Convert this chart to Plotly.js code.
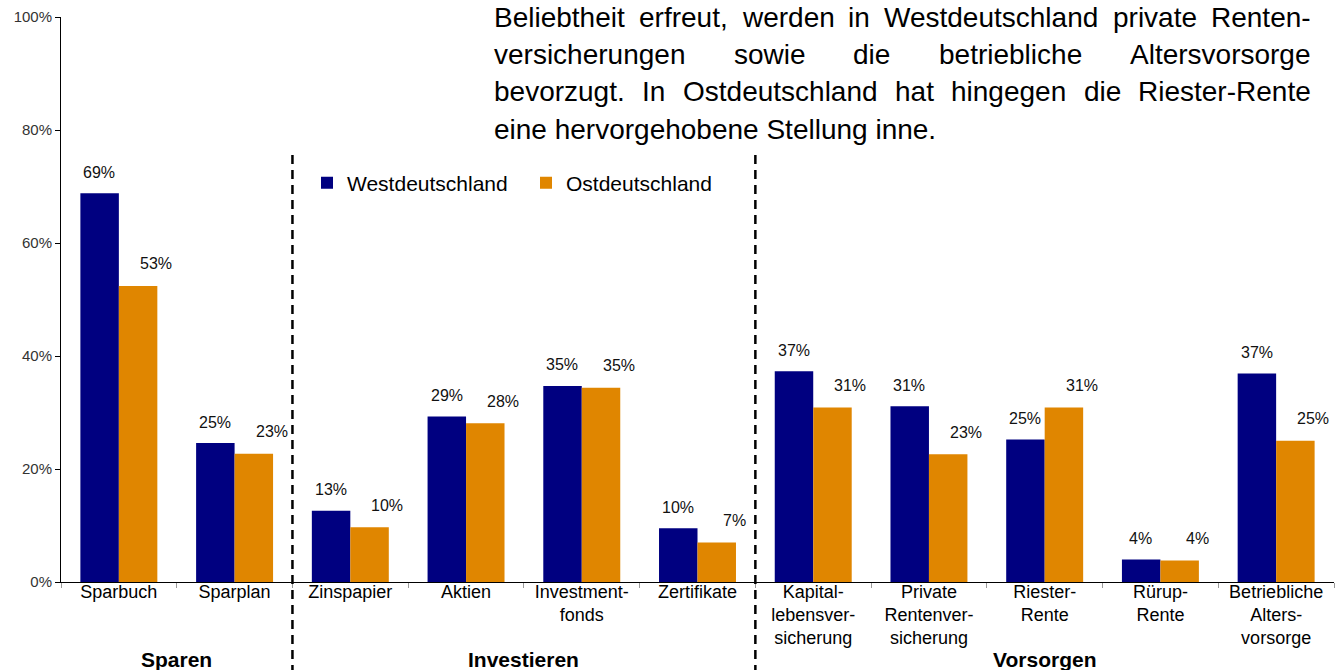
<!DOCTYPE html>
<html>
<head>
<meta charset="utf-8">
<script src="https://cdn.plot.ly/plotly-3.0.1.min.js"></script>
<style>
  html, body { margin: 0; padding: 0; background: #fff; }
  #chart { width: 1340px; height: 670px; }
</style>
</head>
<body>
<div id="chart"></div>
<script>
// ---- data ----
const categories = [
  "Sparbuch", "Sparplan", "Zinspapier", "Aktien", "Investment-<br>fonds", "Zertifikate",
  "Kapital-<br>lebensver-<br>sicherung", "Private<br>Rentenver-<br>sicherung", "Riester-<br>Rente",
  "Rürup-<br>Rente", "Betriebliche<br>Alters-<br>vorsorge"
];
const westValues = [68.8, 24.6, 12.6, 29.3, 34.7, 9.5, 37.3, 31.1, 25.2, 4.0, 36.9];
const eastValues = [52.4, 22.7, 9.7, 28.1, 34.4, 7.0, 30.9, 22.6, 30.9, 3.8, 25.0];
const westLabels = ["69%", "25%", "13%", "29%", "35%", "10%", "37%", "31%", "25%", "4%", "37%"];
const eastLabels = ["53%", "23%", "10%", "28%", "35%", "7%", "31%", "23%", "31%", "4%", "25%"];
const seriesNames = ["Westdeutschland", "Ostdeutschland"];
const groupNames = ["Sparen", "Investieren", "Vorsorgen"];
const groupCenters = [0.5, 3.5, 8];
const groupDividers = [1.5, 5.5];
const yTickVals = [0, 20, 40, 60, 80, 100];
const paragraphLines = [
  "Beliebtheit erfreut, werden in Westdeutschland private Renten-",
  "versicherungen sowie die betriebliche Altersvorsorge",
  "bevorzugt. In Ostdeutschland hat hingegen die Riester-Rente",
  "eine hervorgehobene Stellung inne."
];

// ---- styles ----
const FONT = "Liberation Sans, Arial, sans-serif";
const WEST_COLOR = "#000080";
const EAST_COLOR = "#E08600";
const W = 1340, H = 670;
const margin = { l: 61, r: 6, t: 17, b: 88 };
const plotW = W - margin.l - margin.r;
const plotH = H - margin.t - margin.b;

const traces = [
  { type: "bar", name: seriesNames[0], x: categories, y: westValues,
    marker: { color: WEST_COLOR, line: { width: 0 } }, hoverinfo: "x+y" },
  { type: "bar", name: seriesNames[1], x: categories, y: eastValues,
    marker: { color: EAST_COLOR, line: { width: 0 } }, hoverinfo: "x+y" }
];

const annotations = [];
// data labels
categories.forEach((c, i) => {
  annotations.push({ x: i, y: westValues[i], xref: "x", yref: "y", text: westLabels[i],
    showarrow: false, xanchor: "center", yanchor: "middle", xshift: -19.5, yshift: 21,
    font: { family: FONT, size: 16, color: "#111" } });
  annotations.push({ x: i, y: eastValues[i], xref: "x", yref: "y", text: eastLabels[i],
    showarrow: false, xanchor: "center", yanchor: "middle", xshift: 37, yshift: 22,
    font: { family: FONT, size: 16, color: "#111" } });
});
// group labels
groupNames.forEach((g, i) => {
  annotations.push({ x: groupCenters[i], y: (margin.t + plotH - 659) / plotH, xref: "x", yref: "paper",
    text: "<b>" + g + "</b>", showarrow: false, xanchor: "center", yanchor: "middle",
    font: { family: FONT, size: 21, color: "#000" } });
});

// paragraph (justified lines, measured with canvas)
const PARA_SIZE = 28;
const paraLeft = 493, paraRight = 1310;
const lineCenters = [17, 54.5, 92, 129.5];
const cv = document.createElement("canvas").getContext("2d");
cv.font = PARA_SIZE + "px 'Liberation Sans'";
paragraphLines.forEach((line, li) => {
  const ypaper = (margin.t + plotH - lineCenters[li]) / plotH;
  const justify = li < paragraphLines.length - 1;
  const words = line.split(" ");
  if (!justify) {
    annotations.push({ x: (paraLeft - margin.l) / plotW, y: ypaper, xref: "paper", yref: "paper",
      text: line, showarrow: false, xanchor: "left", yanchor: "middle", borderpad: 0,
      font: { family: FONT, size: PARA_SIZE, color: "#000" } });
    return;
  }
  const widths = words.map(w => cv.measureText(w).width);
  const total = widths.reduce((a, b) => a + b, 0);
  const gap = (paraRight - paraLeft - total) / (words.length - 1);
  let px = paraLeft;
  words.forEach((w, wi) => {
    annotations.push({ x: (px - margin.l) / plotW, y: ypaper, xref: "paper", yref: "paper",
      text: w, showarrow: false, xanchor: "left", yanchor: "middle", borderpad: 0,
      font: { family: FONT, size: PARA_SIZE, color: "#000" } });
    px += widths[wi] + gap;
  });
});

const shapes = groupDividers.map(xv => ({
  type: "line", xref: "x", yref: "paper", x0: xv, x1: xv,
  y0: (582 - 155) / plotH, y1: (582 - 672) / plotH,
  line: { color: "#000", width: 2.5, dash: "9px,6px" }
}));

const layout = {
  width: W, height: H,
  margin: margin,
  paper_bgcolor: "#fff", plot_bgcolor: "#fff",
  barmode: "group", bargap: 0.335, bargroupgap: 0,
  font: { family: FONT, color: "#000" },
  showlegend: true,
  legend: { orientation: "h", x: (331 - margin.l - 24) / plotW, y: (582 - 183) / plotH,
    xanchor: "left", yanchor: "middle", bgcolor: "rgba(0,0,0,0)",
    font: { family: FONT, size: 21, color: "#000" }, itemwidth: 30,
    entrywidth: 174, entrywidthmode: "pixels" },
  xaxis: {
    type: "category", categoryorder: "array", categoryarray: categories,
    range: [-0.5, categories.length - 0.5],
    showline: true, linecolor: "#000", linewidth: 1,
    ticks: "outside", tickson: "boundaries", ticklen: 5, tickcolor: "#999", tickwidth: 1,
    ticklabelstandoff: -7,
    showgrid: false, zeroline: false,
    tickfont: { family: FONT, size: 18, color: "#000" }, tickangle: 0
  },
  yaxis: {
    range: [0, 100], tickvals: yTickVals, ticktext: yTickVals.map(v => v + "%"),
    showline: true, linecolor: "#000", linewidth: 1,
    ticks: "outside", ticklen: 5, tickcolor: "#000",
    showgrid: false, zeroline: false,
    tickfont: { family: FONT, size: 15, color: "#333" }
  },
  annotations: annotations,
  shapes: shapes
};

Plotly.newPlot("chart", traces, layout, { displayModeBar: false, staticPlot: true });
</script>
</body>
</html>
